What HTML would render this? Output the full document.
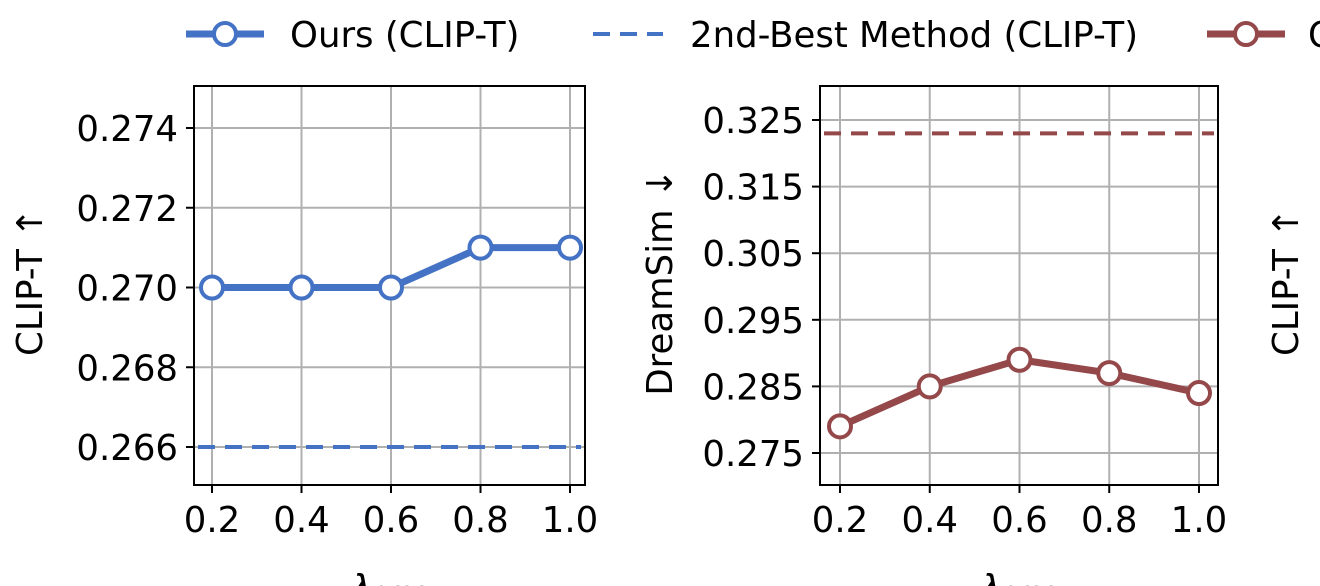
<!DOCTYPE html>
<html><head><meta charset="utf-8"><style>
html,body{margin:0;padding:0;background:#fff;overflow:hidden}
svg{display:block;font-family:"DejaVu Sans","Liberation Sans",sans-serif}
</style></head><body>
<svg id="c" width="1320" height="586" viewBox="0 0 1320 586" xmlns="http://www.w3.org/2000/svg"></svg>
<script>
const xCats=[0.2,0.4,0.6,0.8,1.0];
const xTickLabels=["0.2","0.4","0.6","0.8","1.0"];
const clipVals=[0.270,0.270,0.270,0.271,0.271];
const clipBest=0.266;
const clipTicks=[0.266,0.268,0.270,0.272,0.274];
const dsVals=[0.279,0.285,0.289,0.287,0.284];
const dsBest=0.323;
const dsTicks=[0.275,0.285,0.295,0.305,0.315,0.325];
const NS="http://www.w3.org/2000/svg";
const svg=document.getElementById('c');
function el(t,a,p){const e=document.createElementNS(NS,t);for(const k in a)e.setAttribute(k,a[k]);(p||svg).appendChild(e);return e;}
const BLUE="#4472c4",RED="#94484a";
const FS=35.5;
function panel(o){
 const g=el('g',{});
 
 
 const xs=v=>o.x0+(v-0.2)/0.8*(o.x1-o.x0);
 const ys=v=>o.ya+(v-o.va)/(o.vb-o.va)*(o.yb-o.ya);
 xCats.forEach((c,i)=>{const X=xs(c);
  const l=el('line',{x1:X,x2:X,y1:o.top,y2:o.bot,stroke:'#b0b0b0','stroke-width':2},g);
  
  el('line',{x1:X,x2:X,y1:o.bot,y2:o.bot+8,stroke:'#000','stroke-width':2},g);
  const t=el('text',{x:X,y:o.bot+47,'font-size':FS,'text-anchor':'middle'},g);t.textContent=xTickLabels[i];
  });
 o.ticks.forEach(v=>{const Y=ys(v);
  const l=el('line',{x1:o.left,x2:o.right,y1:Y,y2:Y,stroke:'#b0b0b0','stroke-width':2},g);
  
  el('line',{x1:o.left-8,x2:o.left,y1:Y,y2:Y,stroke:'#000','stroke-width':2},g);
  const t=el('text',{x:o.left-16,y:Y+13,'font-size':FS,'text-anchor':'end'},g);t.textContent=v.toFixed(3);
  });
 const d=el('line',{x1:o.left+4,x2:o.right-4,y1:ys(o.best),y2:ys(o.best),stroke:o.col,'stroke-width':4,'stroke-dasharray':'17,10'},g);
 
 const p=el('polyline',{points:o.vals.map((v,i)=>xs(xCats[i])+','+ys(v)).join(' '),fill:'none',stroke:o.col,'stroke-width':7},g);
 
 o.vals.forEach((v,i)=>{const c=el('circle',{cx:xs(xCats[i]),cy:ys(v),r:11,fill:'#fff',stroke:o.col,'stroke-width':4},g);
  });
 const fr=el('rect',{x:o.left,y:o.top,width:o.right-o.left,height:o.bot-o.top,fill:'none',stroke:'#000','stroke-width':2},g);
 
 const yl=el('text',{x:0,y:0,'font-size':FS,'text-anchor':'middle',transform:`translate(${o.ylx},282) rotate(-90)`},g);yl.textContent=o.ylab;
 
 const xl=el('text',{x:(o.left+o.right)/2,y:600,'font-size':36,'text-anchor':'middle','font-style':'italic'},g);xl.textContent='λ';
 const sub=el('tspan',{'font-size':26,'font-style':'normal'},xl);sub.textContent='pres';
 
}
panel({name:'clip-t-panel',left:194,right:585,top:86,bot:485,x0:212,x1:570,ya:128,yb:447,va:0.274,vb:0.266,ticks:clipTicks,vals:clipVals,best:clipBest,col:BLUE,ylab:'CLIP-T ↑',ylx:42});
panel({name:'dreamsim-panel',left:820,right:1218,top:86,bot:485,x0:840,x1:1199,ya:120,yb:453,va:0.325,vb:0.275,ticks:dsTicks,vals:dsVals,best:dsBest,col:RED,ylab:'DreamSim ↓',ylx:672});
const y3=el('text',{x:0,y:0,'font-size':FS,'text-anchor':'middle',transform:'translate(1298,282) rotate(-90)'});y3.textContent='CLIP-T ↑';

const lg=el('g',{});
function entry(x,col,dash,marker,label,tx,nm){const g=el('g',{},lg);
 
 el('line',{x1:x,x2:x+(dash?70:78),y1:34,y2:34,stroke:col,'stroke-width':dash?4:7,'stroke-dasharray':dash?'17,10':'none'},g);
 if(marker)el('circle',{cx:x+39,cy:34,r:11,fill:'#fff',stroke:col,'stroke-width':4},g);
 const t=el('text',{x:tx,y:47,'font-size':FS},g);t.textContent=label;}
entry(186,BLUE,false,true,'Ours (CLIP-T)',290,'legend-entry-ours-clip');
entry(593,BLUE,true,false,'2nd-Best Method (CLIP-T)',690,'legend-entry-best-clip');
entry(1207,RED,false,true,'Ours (DreamSim)',1308,'legend-entry-ours-dreamsim');
</script>
</body></html>
